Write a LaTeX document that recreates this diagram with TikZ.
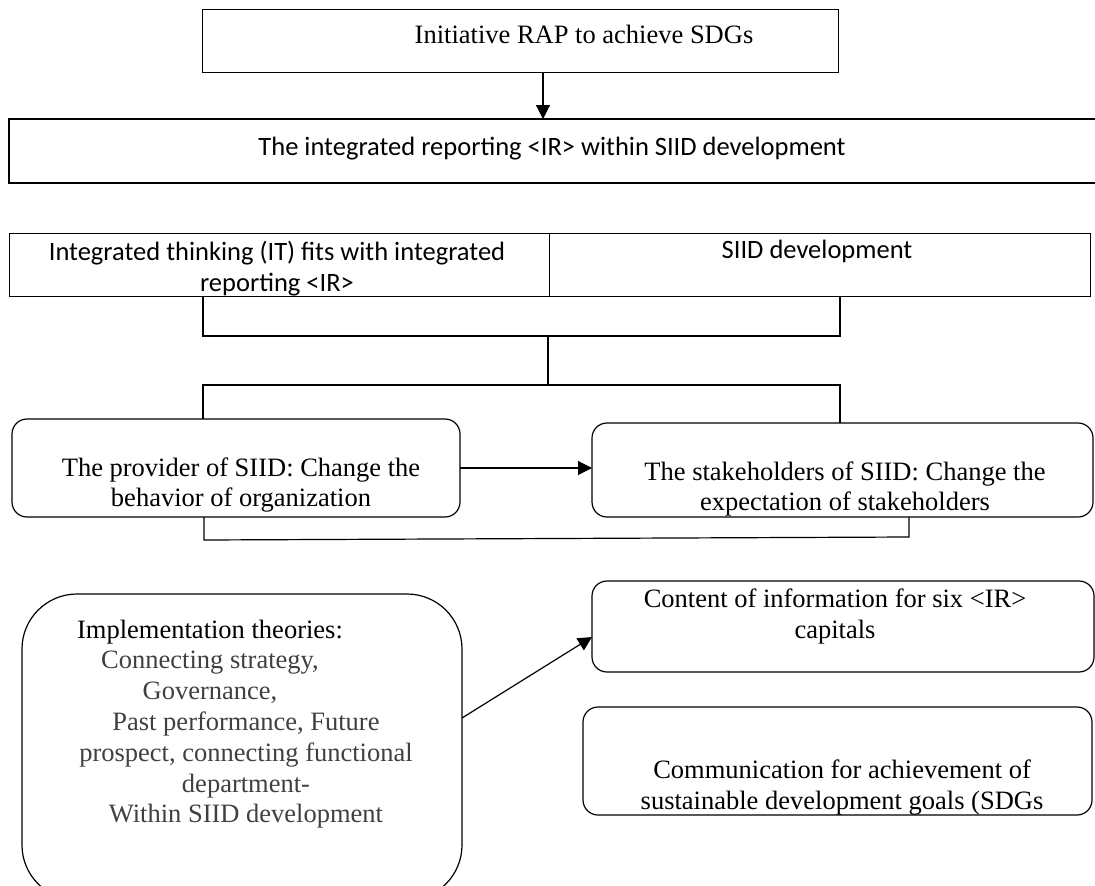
\documentclass[tikz,border=0pt]{standalone}
\usepackage{fontspec}
\setmainfont{Liberation Serif}
\newfontfamily\calibri{Carlito}
\usetikzlibrary{arrows.meta}

% a block of centred lines whose first baseline is the node's base
\newcommand\txtblock[2]{\fontsize{26.5}{#1}\selectfont\begin{tabular}[t]{@{}c@{}}#2\end{tabular}}

\begin{document}
\begin{tikzpicture}[x=1pt,y=-1pt,
  plain/.style={draw,line width=1.2pt,inner sep=0pt,outer sep=0pt},
  soft/.style={plain,rounded corners=15pt},
  label/.style={inner sep=0pt,outer sep=0pt,anchor=base},
  wire/.style={line width=1.2pt},
  arr/.style={line width=1.2pt,-{Triangle[length=14pt,width=14pt]}}]
\useasboundingbox (0,0) rectangle (1095,886);

% boxes
\node[plain,line width=1pt,minimum width=636pt,minimum height=63pt] (top) at (520,40.5) {};
\node[plain,minimum width=1095pt,minimum height=64pt] (ir) at (556.5,151) {};
\node[plain,line width=1pt,minimum width=540pt,minimum height=63pt] (itcell) at (279,264.5) {};
\node[plain,line width=1pt,minimum width=541pt,minimum height=63pt] (siidcell) at (819.5,264.5) {};
\node[soft,minimum width=448pt,minimum height=98pt] (provider) at (236,468) {};
\node[soft,minimum width=501pt,minimum height=94pt] (stake) at (842.5,470) {};
\node[soft,minimum width=502pt,minimum height=91pt] (content) at (843,626.5) {};
\node[soft,minimum width=509pt,minimum height=108pt] (comm) at (837.5,761) {};
\node[plain,rounded corners=55pt,minimum width=440pt,minimum height=306pt] (impl) at (242,747) {};

% texts
\node[label] (topt) at (584,43) {\txtblock{30.5}{Initiative RAP to achieve SDGs}};
\node[label] (irt) at (552,155) {\calibri\txtblock{30.5}{The integrated reporting <IR> within SIID development}};
\node[label] (itt) at (277,260) {\calibri\txtblock{31}{Integrated thinking (IT) fits with integrated\\reporting <IR>}};
\node[label] (siidt) at (817,258) {\calibri\txtblock{30.5}{SIID development}};
\node[label] (providert) at (241,476) {\txtblock{30}{The provider of SIID: Change the\\behavior of organization}};
\node[label] (staket) at (845,480) {\txtblock{30}{The stakeholders of SIID: Change the\\expectation of stakeholders}};
\node[label] (contentt) at (835,607) {\txtblock{31}{Content of information for six <IR>\\capitals}};
\node[label] (commt) at (842,778) {\txtblock{31.7}{Communication for achievement of\\sustainable development goals (SDGs}};
\node[label] (implt) at (210,638) {\txtblock{30.8}{Implementation theories:\\\color{black!75}Connecting strategy,\\\color{black!75}Governance,}};
\node[label,text=black!75] (implu) at (246,730.4) {\txtblock{30.8}{Past performance, Future\\prospect, connecting functional\\department-\\Within SIID development}};

% junction points of the connectors
\coordinate (ax) at (543,0);
\coordinate (jl) at (203,336);
\coordinate (jr) at (840,336);
\coordinate (jm) at (548,336);
\coordinate (kl) at (203,385);
\coordinate (kr) at (840,385);
\coordinate (km) at (548,385);
\coordinate (bl) at (204,540);
\coordinate (br) at (909,537);
\coordinate (da) at (0,718);
\coordinate (db) at (0,637);

% connectors
\draw[arr] (top.south -| ax) -- (ir.north -| ax);
\draw[wire] (itcell.south -| jl) -- (jl) -- (jr) -- (siidcell.south -| jr);
\draw[wire] (jm) -- (km);
\draw[wire] (provider.north -| kl) -- (kl) -- (kr) -- (stake.north -| kr);
\draw[arr] (provider.east) -- (stake.west |- provider.east);
\draw[wire] (provider.south -| bl) -- (bl) -- (br) -- (stake.south -| br);
\draw[arr] (impl.east |- da) -- (content.west |- db);
\end{tikzpicture}
\end{document}
